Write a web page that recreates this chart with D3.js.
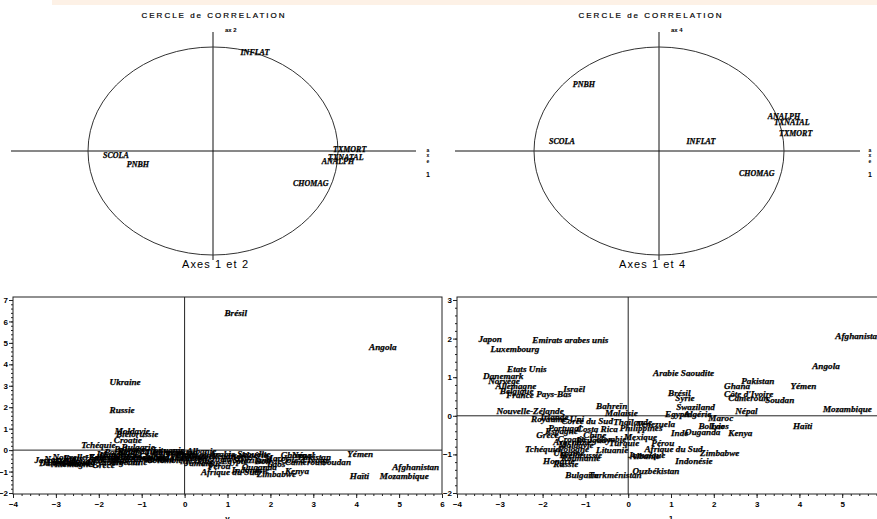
<!DOCTYPE html>
<html>
<head>
<meta charset="utf-8">
<script src="https://cdn.jsdelivr.net/npm/d3@7"></script>
<style>
  body { margin: 0; background: #fff; }
  .lab { font-family: "Liberation Serif", serif; font-weight: bold; font-style: italic; fill: #000; stroke: #000; stroke-width: 0.25px; }
  .tick text { font-family: "Liberation Sans", sans-serif; font-weight: bold; font-size: 8px; fill: #000; }
  .tick line { stroke: #222; }
</style>
</head>
<body>
<svg id="chart" width="877" height="519"></svg>
<script>
// variables of the correlation circles
var variables = ["INFLAT", "TXMORT", "TXNATAL", "ANALPH", "CHOMAG", "SCOLA", "PNBH"];
var corAxe1 = [0.22, 0.96, 0.92, 0.87, 0.64, -0.88, -0.69];
var corAxe2 = [0.95, 0.02, -0.06, -0.10, -0.31, -0.04, -0.13];
var corAxe4 = [0.09, 0.17, 0.28, 0.33, -0.21, 0.09, 0.64];

// countries (individuals) with their coordinates on axes 1, 2 and 4
var pays = ["Japon", "Emirats arabes unis", "Luxembourg", "Etats Unis", "Danemark", "Norvège",
  "Allemagne", "Belgique", "France", "Pays-Bas", "Israël", "Bahreïn", "Malaisie", "Nouvelle-Zélande",
  "Royaume-Uni", "Irlande", "Corée du Sud", "Portugal", "Costa Rica", "Espagne", "Grèce", "Chine",
  "Colombie", "Argentine", "Uruguay", "Tchéquie", "Pologne", "Lituanie", "Roumanie", "Hongrie",
  "Bulgarie", "Turkménistan", "Ouzbékistan", "Albanie", "Arabie Saoudite", "Pakistan", "Ghana",
  "Côte d'Ivoire", "Cameroun", "Soudan", "Brésil", "Syrie", "Swaziland", "Népal", "Maroc", "Egypte",
  "Algérie", "Laos", "Bolivie", "Ouganda", "Kenya", "Haïti", "Mozambique", "Yémen", "Angola",
  "Afghanistan", "Pérou", "Zimbabwe", "Indonésie", "Jamaïque", "Afrique du Sud", "Ukraine", "Russie",
  "Moldavie", "Biélorussie", "Croatie", "Philippines", "Thaïlande", "Mexique", "Venezuela", "Turquie", "Inde"];
var axe1 = [-3.50, -2.24, -3.22, -2.83, -3.39, -3.27, -3.10, -3.00, -2.85, -2.15, -1.52, -0.75, -0.54, -3.08,
  -2.27, -2.05, -1.56, -1.87, -1.20, -1.94, -2.15, -1.05, -0.89, -1.75, -1.20, -2.41, -1.64, -0.75, -1.57, -1.99,
  -1.47, -0.93, 0.10, 0.05, 0.58, 2.64, 2.24, 2.24, 2.34, 3.20, 0.93, 1.10, 1.12, 2.50, 1.87, 0.86,
  1.30, 1.92, 1.64, 1.33, 2.34, 3.85, 4.55, 3.79, 4.30, 4.84, 0.54, 1.68, 1.10, 0.00, 0.38, -1.75, -1.75,
  -1.63, -1.60, -1.65, -0.20, -0.35, -0.10, 0.20, -0.45, 1.00];
var axe2 = [-0.45, -0.30, -0.55, -0.35, -0.60, -0.40, -0.65, -0.50, -0.60, -0.45, -0.20, -0.10, -0.35, -0.30,
  -0.55, -0.15, -0.30, -0.10, -0.40, -0.40, -0.70, -0.25, -0.45, -0.55, -0.35, 0.23, 0.05, 0.00, -0.05, -0.20,
  0.15, -0.10, -0.25, -0.05, -0.15, -0.30, -0.20, -0.45, -0.55, -0.55, 6.40, -0.30, -0.45, -0.20, -0.35, -0.50,
  -0.20, -0.65, -0.50, -0.80, -0.95, -1.20, -1.20, -0.15, 4.80, -0.80, -0.75, -1.10, -0.90, -0.60, -1.00, 3.20, 1.90,
  0.90, 0.75, 0.50, -0.20, -0.30, -0.50, -0.40, -0.15, -0.25];
var axe4 = [2.00, 1.98, 1.74, 1.22, 1.04, 0.91, 0.78, 0.65, 0.55, 0.57, 0.70, 0.26, 0.08, 0.13,
  -0.08, -0.02, -0.13, -0.31, -0.33, -0.40, -0.49, -0.49, -0.60, -0.68, -0.63, -0.86, -0.86, -0.88, -1.10, -1.17,
  -1.54, -1.54, -1.43, -1.04, 1.12, 0.91, 0.78, 0.57, 0.47, 0.42, 0.60, 0.47, 0.23, 0.13, -0.05, 0.05,
  0.05, -0.26, -0.26, -0.42, -0.44, -0.26, 0.18, 0.78, 1.30, 2.08, -0.70, -0.96, -1.17, -1.02, -0.85, -0.95, -1.25,
  -0.75, -1.00, -0.60, -0.30, -0.15, -0.55, -0.20, -0.70, -0.45];

var svg = d3.select("#chart");

// light band at the top of the page
svg.append("rect")
  .attr("x", 52).attr("y", 0).attr("width", 825).attr("height", 5)
  .attr("fill", "#fdf1e6");

// correlation circle panel
function cercle(cx, titreX, hx1, hx2, corV, axeV, sousTitre, stackX) {
  var x = d3.scaleLinear().domain([-1, 1]).range([cx - 125, cx + 125]);
  var y = d3.scaleLinear().domain([-1, 1]).range([255, 47]);

  svg.append("text")
    .attr("x", titreX).attr("y", 18)
    .attr("text-anchor", "middle")
    .attr("textLength", 143).attr("lengthAdjust", "spacing")
    .style("font", "8px 'Liberation Sans'")
    .attr("fill", "#000").attr("stroke", "#000").attr("stroke-width", 0.2)
    .text("CERCLE de CORRELATION");

  svg.append("line")
    .attr("x1", hx1).attr("x2", hx2)
    .attr("y1", y(0)).attr("y2", y(0))
    .attr("stroke", "#111");
  svg.append("line")
    .attr("x1", x(0)).attr("x2", x(0))
    .attr("y1", 32).attr("y2", 260)
    .attr("stroke", "#111");

  svg.append("ellipse")
    .attr("cx", x(0)).attr("cy", y(0))
    .attr("rx", x(1) - x(0)).attr("ry", y(0) - y(1))
    .attr("fill", "none").attr("stroke", "#333");

  svg.selectAll(null)
    .data(variables)
    .enter()
    .append("text")
    .attr("class", "lab")
    .attr("x", (d, i) => x(corAxe1[i]))
    .attr("y", (d, i) => y(corV[i]))
    .attr("dy", "0.35em")
    .style("font-size", "8px")
    .text(d => d);

  svg.append("text")
    .attr("x", x(0) + 12).attr("y", 32)
    .style("font", "bold 6px 'Liberation Sans'")
    .text(axeV);

  // vertical stacked label on the right
  var stack = svg.append("text")
    .attr("x", stackX)
    .attr("text-anchor", "middle")
    .style("font", "bold 5px 'Liberation Sans'");
  ["a", "x", "e", "1"].forEach(function(c, i) {
    stack.append("tspan")
      .attr("x", stackX)
      .attr("y", [152, 157, 163, 177][i])
      .style("font-size", i == 3 ? "7px" : "5px")
      .text(c);
  });

  svg.append("text")
    .attr("x", titreX + 2).attr("y", 268)
    .attr("text-anchor", "middle")
    .attr("textLength", 66).attr("lengthAdjust", "spacing")
    .style("font", "11px 'Liberation Sans'")
    .text(sousTitre);
}

cercle(213, 213, 11, 416, corAxe2, "ax 2", "Axes 1 et 2", 428);
cercle(659, 650, 455, 860, corAxe4, "ax 4", "Axes 1 et 4", 870);

// scatter plot of the countries
function nuage(x0, x1, yDom, yVals, id, bas) {
  var top = 297, bottom = 494;
  var x = d3.scaleLinear().domain([-4, 6]).range([x0, x1]);
  var y = d3.scaleLinear().domain(yDom).range([493, 300]);

  var g = svg.append("g");

  g.append("clipPath").attr("id", id)
    .append("rect")
    .attr("x", x0).attr("y", top)
    .attr("width", x1 - x0).attr("height", bottom - top);

  g.append("rect")
    .attr("x", x0).attr("y", top)
    .attr("width", x1 - x0).attr("height", bottom - top)
    .attr("fill", "none").attr("stroke", "#222");

  // reference lines
  g.append("line")
    .attr("x1", x0).attr("x2", x1)
    .attr("y1", y(0)).attr("y2", y(0))
    .attr("stroke", "#222");
  g.append("line")
    .attr("x1", x(0)).attr("x2", x(0))
    .attr("y1", top).attr("y2", bottom)
    .attr("stroke", "#222");

  // minor ticks
  var minorX = d3.range(-4, 6.01, 0.2);
  var minorY = d3.range(yDom[0], yDom[1] + 0.01, 0.2);
  g.append("g")
    .attr("transform", `translate(0, ${bottom})`)
    .call(d3.axisBottom(x).tickValues(minorX).tickSize(2).tickFormat(""))
    .select(".domain").remove();
  g.append("g")
    .attr("transform", `translate(${x0}, 0)`)
    .call(d3.axisLeft(y).tickValues(minorY).tickSize(2).tickFormat(""))
    .select(".domain").remove();

  // major ticks
  g.append("g")
    .attr("transform", `translate(0, ${bottom})`)
    .call(d3.axisBottom(x).ticks(10).tickSize(4).tickPadding(3).tickFormat(d3.format("d")))
    .select(".domain").remove();
  g.append("g")
    .attr("transform", `translate(${x0}, 0)`)
    .call(d3.axisLeft(y).ticks(yDom[1] - yDom[0]).tickSize(4).tickPadding(1).tickFormat(d3.format("d")))
    .select(".domain").remove();

  // country labels
  g.append("g")
    .attr("clip-path", `url(#${id})`)
    .selectAll("text")
    .data(pays)
    .enter()
    .append("text")
    .attr("class", "lab")
    .attr("x", (d, i) => x(axe1[i]))
    .attr("y", (d, i) => y(yVals[i]))
    .attr("dy", "0.35em")
    .style("font-size", "9.2px")
    .text(d => d);

  // axis label, cut by the bottom of the page
  g.append("text")
    .attr("x", (x0 + x1) / 2).attr("y", 521)
    .attr("text-anchor", "middle")
    .style("font", "bold 8px 'Liberation Sans'")
    .text(bas);
}

nuage(13, 442, [-2, 7], axe2, "clipA", "v");
nuage(457, 885, [-2, 3], axe4, "clipB", "1");
</script>
</body>
</html>
